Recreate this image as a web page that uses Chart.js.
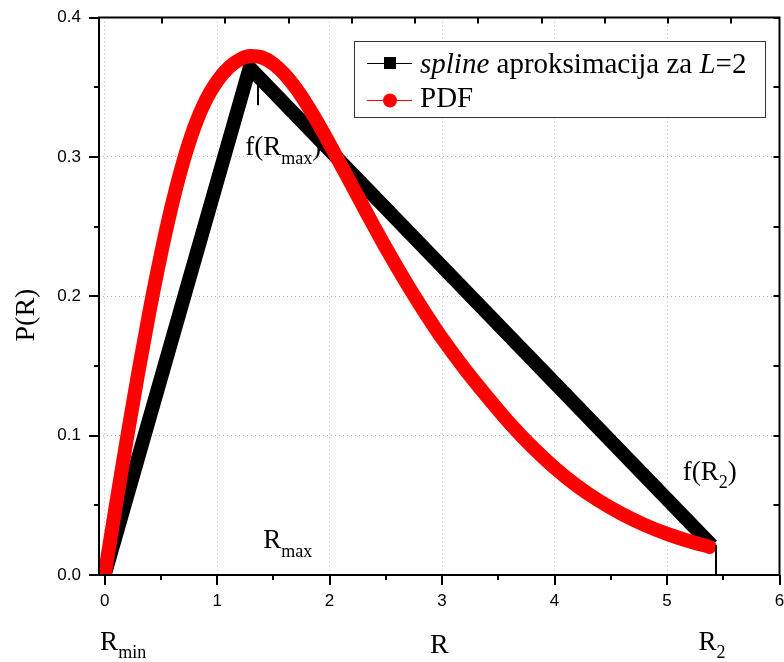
<!DOCTYPE html>
<html>
<head>
<meta charset="utf-8">
<script src="https://cdn.jsdelivr.net/npm/chart.js@4.4.1/dist/chart.umd.min.js"></script>
<style>
  html, body { margin: 0; padding: 0; background: #fff; }
  canvas { display: block; }
</style>
</head>
<body>
<canvas id="chart" width="784" height="662"></canvas>
<script>
// axis ticks
const X_TICKS = [0, 1, 2, 3, 4, 5, 6];
const Y_TICKS = [0, 0.1, 0.2, 0.3, 0.4];

// spline approximation (L=2): R_min, R_max, R_2
const SPLINE_R = [0, 1.29, 5.40];
const SPLINE_P = [0, 0.364, 0.021];

// PDF
const PDF_R = [0, 0.1, 0.2, 0.3, 0.4, 0.5, 0.6, 0.7, 0.8, 0.9, 1.0, 1.1, 1.2, 1.3, 1.4, 1.5, 1.6, 1.7, 1.8, 1.9, 2.0,
               2.1, 2.2, 2.3, 2.4, 2.5, 2.6, 2.7, 2.8, 2.9, 3.0, 3.2, 3.4, 3.6, 3.8, 4.0, 4.2, 4.4, 4.6, 4.8, 5.0, 5.2, 5.38];
const PDF_P = [0, 0.0500, 0.0988, 0.1456, 0.1896, 0.2300, 0.2660, 0.2968, 0.3218, 0.3408, 0.3543, 0.3638, 0.3698,
               0.3723, 0.3713, 0.3668, 0.3593, 0.3493, 0.3373, 0.3238, 0.3093, 0.2943, 0.2793, 0.2643, 0.2493, 0.2348,
               0.2208, 0.2073, 0.1943, 0.1818, 0.1698, 0.148, 0.128, 0.109, 0.092, 0.077, 0.064, 0.053, 0.0438, 0.036,
               0.0295, 0.0242, 0.0201];

const LEGEND = ['spline aproksimacija za L=2', 'PDF'];

function pts(xs, ys) {
  return xs.map((v, i) => ({x: v, y: ys[i]}));
}

// draw a run of text pieces: [text, font, dy]
function runText(ctx, x, y, parts) {
  parts.forEach(p => {
    ctx.font = p[1];
    ctx.fillText(p[0], x, y + (p[2] || 0));
    x += ctx.measureText(p[0]).width;
  });
  return x;
}

const SERIF = '"Liberation Serif", "Times New Roman", serif';
const BIG = '27px ' + SERIF;
const SMALL = '18px ' + SERIF;

const decor = {
  id: 'decor',
  afterDraw(chart) {
    const ctx = chart.ctx;
    const a = chart.chartArea;
    const x = chart.scales.x, y = chart.scales.y, xt = chart.scales.xt;
    ctx.save();
    ctx.strokeStyle = '#000';
    ctx.fillStyle = '#000';

    // ticks
    ctx.lineWidth = 2;
    ctx.beginPath();
    for (let v = 0; v <= 6.001; v += 0.5) {
      const px = Math.round(x.getPixelForValue(v));
      const len = Math.abs(v - Math.round(v)) < 0.01 ? 10 : 5;
      ctx.moveTo(px, a.bottom); ctx.lineTo(px, a.bottom + len);
    }
    for (let v = 0; v <= 0.4001; v += 0.05) {
      const py = Math.round(y.getPixelForValue(v));
      const major = Math.abs(v * 10 - Math.round(v * 10)) < 0.01;
      ctx.moveTo(a.left, py); ctx.lineTo(a.left - (major ? 10 : 5), py);
      ctx.moveTo(a.right, py); ctx.lineTo(a.right - 6, py);
    }
    for (let v = 1; v <= 10; v++) {
      const px = Math.round(xt.getPixelForValue(v));
      ctx.moveTo(px, a.top); ctx.lineTo(px, a.top + 6);
    }
    ctx.stroke();

    // frame
    ctx.strokeRect(a.left, a.top, a.right - a.left, a.bottom - a.top);

    // marker lines at R_max and R_2
    ctx.lineWidth = 2;
    ctx.beginPath();
    const xm = Math.round(x.getPixelForValue(1.365));
    ctx.moveTo(xm, y.getPixelForValue(0.360)); ctx.lineTo(xm, y.getPixelForValue(0.337));
    const x2 = Math.round(x.getPixelForValue(5.435));
    ctx.moveTo(x2, y.getPixelForValue(0.0215)); ctx.lineTo(x2, a.bottom);
    ctx.stroke();

    // annotations
    ctx.textAlign = 'left';
    ctx.textBaseline = 'alphabetic';
    runText(ctx, x.getPixelForValue(1.25), 155, [['f(R', BIG], ['max', SMALL, 9], [')', BIG]]);
    runText(ctx, x.getPixelForValue(1.41), 548, [['R', BIG], ['max', SMALL, 9]]);
    runText(ctx, x.getPixelForValue(5.14), 480, [['f(R', BIG], ['2', SMALL, 8], [')', BIG]]);
    runText(ctx, x.getPixelForValue(-0.04), 650, [['R', BIG], ['min', SMALL, 8]]);
    runText(ctx, x.getPixelForValue(5.28), 650, [['R', BIG], ['2', SMALL, 8]]);

    // axis titles
    ctx.font = '28px ' + SERIF;
    ctx.textAlign = 'center';
    ctx.fillText('R', (a.left + a.right) / 2, 653);
    ctx.save();
    ctx.translate(34, 315);
    ctx.rotate(-Math.PI / 2);
    ctx.fillText('P(R)', 0, 0);
    ctx.restore();

    // legend
    const bx = 354.5, by = 41.5, bw = 411, bh = 76;
    ctx.fillStyle = '#fff';
    ctx.fillRect(bx, by, bw, bh);
    ctx.lineWidth = 1;
    ctx.strokeStyle = '#333';
    ctx.strokeRect(bx, by, bw, bh);

    ctx.textAlign = 'left';
    ctx.lineWidth = 1;
    ctx.strokeStyle = '#000';
    ctx.beginPath(); ctx.moveTo(367, 63.5); ctx.lineTo(412, 63.5); ctx.stroke();
    ctx.fillStyle = '#000';
    ctx.fillRect(384, 57, 12, 12);
    const LF = '29px ' + SERIF, LI = 'italic 29px ' + SERIF;
    runText(ctx, 420, 73, [['spline', LI], [' aproksimacija za ', LF], ['L', LI], ['=2', LF]]);

    ctx.strokeStyle = '#f00';
    ctx.beginPath(); ctx.moveTo(367, 100.5); ctx.lineTo(412, 100.5); ctx.stroke();
    ctx.fillStyle = '#f00';
    ctx.beginPath(); ctx.arc(390, 100.5, 7, 0, Math.PI * 2); ctx.fill();
    ctx.fillStyle = '#000';
    runText(ctx, 420, 107, [[LEGEND[1], LF]]);

    ctx.restore();
  }
};

const ctx = document.getElementById('chart').getContext('2d');
new Chart(ctx, {
  type: 'line',
  data: {
    datasets: [{
      label: LEGEND[0],
      data: pts(SPLINE_R, SPLINE_P),
      borderColor: '#000',
      borderWidth: 14,
      borderJoinStyle: 'miter',
      borderCapStyle: 'butt',
      pointRadius: 0,
      tension: 0,
      clip: 0,
      order: 2
    }, {
      label: LEGEND[1],
      data: pts(PDF_R, PDF_P),
      borderColor: '#f00',
      borderWidth: 14,
      borderJoinStyle: 'round',
      borderCapStyle: 'round',
      pointRadius: 0,
      cubicInterpolationMode: 'monotone',
      clip: 0,
      order: 1
    }]
  },
  options: {
    responsive: false,
    animation: false,
    devicePixelRatio: 1,
    layout: { padding: { top: 17.5, right: 4.5, left: 0, bottom: 0 } },
    plugins: { legend: { display: false }, tooltip: { enabled: false } },
    scales: {
      x: {
        type: 'linear',
        position: 'bottom',
        min: -0.05,
        max: 6,
        afterBuildTicks: s => { s.ticks = X_TICKS.map(v => ({value: v})); },
        afterFit: s => { s.height = 87; s.paddingLeft = 0; s.paddingRight = 0; },
        ticks: {
          padding: 16,
          color: '#000',
          font: { family: '"Liberation Sans", Arial, sans-serif', size: 17 },
          callback: v => String(v)
        },
        grid: { color: '#b4b4b4', lineWidth: 1, drawTicks: false },
        border: { display: false, dash: [1, 3] }
      },
      xt: {
        type: 'linear',
        axis: 'x',
        position: 'top',
        display: false,
        min: 0,
        max: 10.76
      },
      y: {
        type: 'linear',
        position: 'left',
        min: 0,
        max: 0.4,
        afterBuildTicks: s => { s.ticks = Y_TICKS.map(v => ({value: v})); },
        afterFit: s => { s.width = 99; s.paddingTop = 0; s.paddingBottom = 0; },
        ticks: {
          padding: 18,
          color: '#000',
          font: { family: '"Liberation Sans", Arial, sans-serif', size: 17 },
          callback: v => v.toFixed(1)
        },
        grid: { color: '#b4b4b4', lineWidth: 1, drawTicks: false },
        border: { display: false, dash: [1, 3] }
      }
    }
  },
  plugins: [decor]
});
</script>
</body>
</html>
